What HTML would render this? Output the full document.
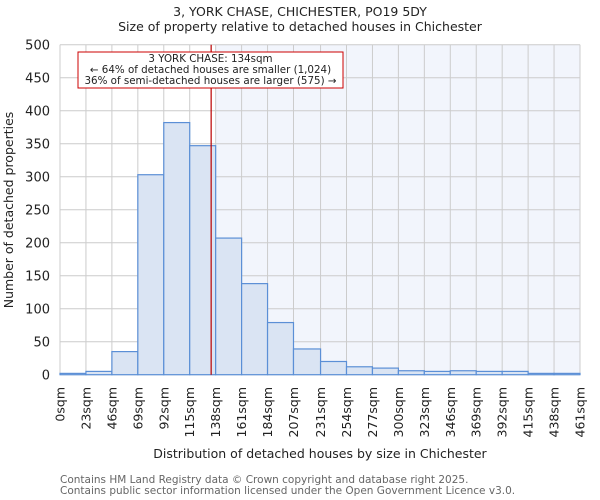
<!DOCTYPE html>
<html><head><meta charset="utf-8"><style>
body{margin:0;background:#fff}
svg{display:block;font-family:"DejaVu Sans","Liberation Sans",sans-serif}
</style></head><body>
<svg id="chart" width="600" height="500" xmlns="http://www.w3.org/2000/svg">
<text x="300" y="16" text-anchor="middle" font-size="12.5" fill="#222">3, YORK CHASE, CHICHESTER, PO19 5DY</text>
<text x="300" y="31" text-anchor="middle" font-size="12.5" fill="#222">Size of property relative to detached houses in Chichester</text>
<g id="plot"></g>
<text transform="translate(13,210) rotate(-90)" text-anchor="middle" font-size="12.5" fill="#222">Number of detached properties</text>
<text x="320" y="458" text-anchor="middle" font-size="12.5" fill="#222">Distribution of detached houses by size in Chichester</text>
<text x="60" y="483" font-size="10.5" fill="#666">Contains HM Land Registry data © Crown copyright and database right 2025.</text>
<text x="60" y="494" font-size="10.5" fill="#666">Contains public sector information licensed under the Open Government Licence v3.0.</text>
</svg>
<script>
const binLabels=["0sqm","23sqm","46sqm","69sqm","92sqm","115sqm","138sqm","161sqm","184sqm","207sqm","231sqm","254sqm","277sqm","300sqm","323sqm","346sqm","369sqm","392sqm","415sqm","438sqm","461sqm"];
const binEdges=[0,23,46,69,92,115,138,161,184,207,231,254,277,300,323,346,369,392,415,438,461];
const counts=[2,5,35,303,382,347,207,138,79,39,20,12,10,6,5,6,5,5,2,2];
const yTicks=[0,50,100,150,200,250,300,350,400,450,500];
const propertySize=134;
const annotation=["3 YORK CHASE: 134sqm","← 64% of detached houses are smaller (1,024)","36% of semi-detached houses are larger (575) →"];

const NS="http://www.w3.org/2000/svg";
const L=60,R=580,T=44.7,B=374.7;
const xMin=binEdges[0],xMax=binEdges[binEdges.length-1];
const x=v=>L+(v-xMin)/(xMax-xMin)*(R-L);
const y=v=>B-v/500*(B-T);
const g=document.getElementById('plot');
function mk(t,a){const e=document.createElementNS(NS,t);for(const k in a)e.setAttribute(k,a[k]);g.appendChild(e);return e;}

let hl=mk('rect',{x:x(138),y:T,width:R-x(138),height:B-T,fill:'#f2f5fc'});


binEdges.forEach((v,i)=>{let l=mk('line',{x1:x(v),x2:x(v),y1:T,y2:B,stroke:'#ccc','stroke-width':1});

});
yTicks.forEach(v=>{let l=mk('line',{x1:L,x2:R,y1:y(v),y2:y(v),stroke:'#ccc','stroke-width':1});


let t=mk('text',{x:L-10,y:y(v)+5,'text-anchor':'end','font-size':13,fill:'#222'});t.textContent=v;

});
counts.forEach((c,i)=>{let r=mk('rect',{x:x(binEdges[i]),y:y(c),width:x(binEdges[i+1])-x(binEdges[i]),height:B-y(c),fill:'#dae4f3',stroke:'#5b8fd6','stroke-width':1.2});

});
binLabels.forEach((s,i)=>{const xx=x(binEdges[i])+4.5;let t=mk('text',{transform:`translate(${xx},387) rotate(-90)`,'text-anchor':'end','font-size':12.5,fill:'#222'});t.textContent=s;

});
let m=mk('line',{x1:x(propertySize),x2:x(propertySize),y1:T,y2:B,stroke:'#b00','stroke-width':1.2});


let box=mk('rect',{x:78,y:52,width:265,height:36,fill:'#fff',stroke:'#c00','stroke-width':1});


annotation.forEach((s,i)=>{let t=mk('text',{x:210.5,y:62+i*11,'text-anchor':'middle','font-size':10.3,fill:'#222'});t.textContent=s;

});
</script>
</body></html>
